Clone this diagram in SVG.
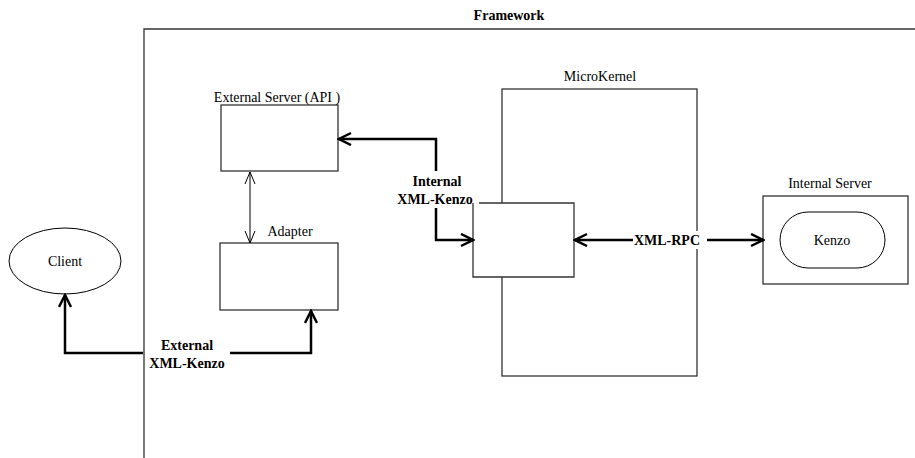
<svg xmlns="http://www.w3.org/2000/svg" width="915" height="458" viewBox="0 0 915 458">
<style>
text{font-family:'Liberation Serif','Times New Roman','DejaVu Serif',serif;font-size:14px;fill:#000;text-anchor:middle}
.b{font-weight:bold}
.box{fill:#fff;stroke:#333;stroke-width:1.3}
.thick{fill:none;stroke:#000;stroke-width:2.5}
.thin{fill:none;stroke:#000;stroke-width:1}
</style>
<defs>
<marker id="ah" markerUnits="userSpaceOnUse" markerWidth="16" markerHeight="16" viewBox="-1 -1 16 16" refX="13" refY="6" orient="auto">
<path d="M1,0 L13,6 L1,12" fill="none" stroke="#000" stroke-width="2.5"/>
</marker>
<marker id="ahs" markerUnits="userSpaceOnUse" markerWidth="14" markerHeight="14" viewBox="-1 -1 14 14" refX="12" refY="5" orient="auto-start-reverse">
<path d="M0,0 L12,5 L0,10" fill="none" stroke="#000" stroke-width="1"/>
</marker>
</defs>
<rect width="915" height="458" fill="#fff"/>
<g id="framework">
<path d="M915,29 H144 V458" fill="none" stroke="#333" stroke-width="1.3"/>
<text class="b" x="509" y="20" font-family="Liberation Serif, serif">Framework</text>
</g>
<g id="microkernel">
<rect class="box" x="502" y="89" width="195" height="287"/>
<text x="600" y="81" font-family="Liberation Serif, serif">MicroKernel</text>
</g>
<g id="external-server">
<rect class="box" x="221" y="105" width="117" height="66"/>
<text x="277" y="102" font-family="Liberation Serif, serif">External Server (API )</text>
</g>
<g id="adapter">
<rect class="box" x="220" y="243" width="118" height="67"/>
<text x="290" y="236" font-family="Liberation Serif, serif">Adapter</text>
</g>
<g id="inner">
<rect x="473" y="203" width="101" height="74" fill="#fff"/>
<path d="M479,203 H574 V277 H473 V203" fill="none" stroke="#333" stroke-width="1.3"/>
</g>
<g id="internal-server">
<rect class="box" x="763" y="196" width="145" height="88"/>
<text x="830" y="188" font-family="Liberation Serif, serif">Internal Server</text>
</g>
<g id="kenzo">
<rect x="780" y="212" width="105" height="56" rx="28" ry="28" fill="#fff" stroke="#000" stroke-width="1"/>
<text x="832" y="245" font-family="Liberation Serif, serif">Kenzo</text>
</g>
<g id="client">
<ellipse cx="65" cy="261" rx="56" ry="33" fill="#fff" stroke="#000" stroke-width="1"/>
<text x="65" y="266" font-family="Liberation Serif, serif">Client</text>
</g>
<g id="connectors">
<path class="thick" d="M436,171 V139 H339" marker-end="url(#ah)"/>
<path class="thick" d="M436,208 V240 H473" marker-end="url(#ah)"/>
<path class="thick" d="M633,240 H575" marker-end="url(#ah)"/>
<path class="thick" d="M707,240 H763" marker-end="url(#ah)"/>
<path class="thick" d="M143,353 H65 V295" marker-end="url(#ah)"/>
<path class="thick" d="M230,353 H311 V311" marker-end="url(#ah)"/>
<path class="thin" d="M250,172 V243" marker-start="url(#ahs)" marker-end="url(#ahs)"/>
<text class="b" x="437" y="186" font-family="Liberation Serif, serif">Internal</text>
<text class="b" x="435" y="204" font-family="Liberation Serif, serif">XML-Kenzo</text>
<rect x="634" y="231" width="68" height="18" fill="#fff"/>
<text class="b" x="667" y="245" font-family="Liberation Serif, serif">XML-RPC</text>
<text class="b" x="187" y="350" font-family="Liberation Serif, serif">External</text>
<text class="b" x="187" y="368" font-family="Liberation Serif, serif">XML-Kenzo</text>
</g>
</svg>
